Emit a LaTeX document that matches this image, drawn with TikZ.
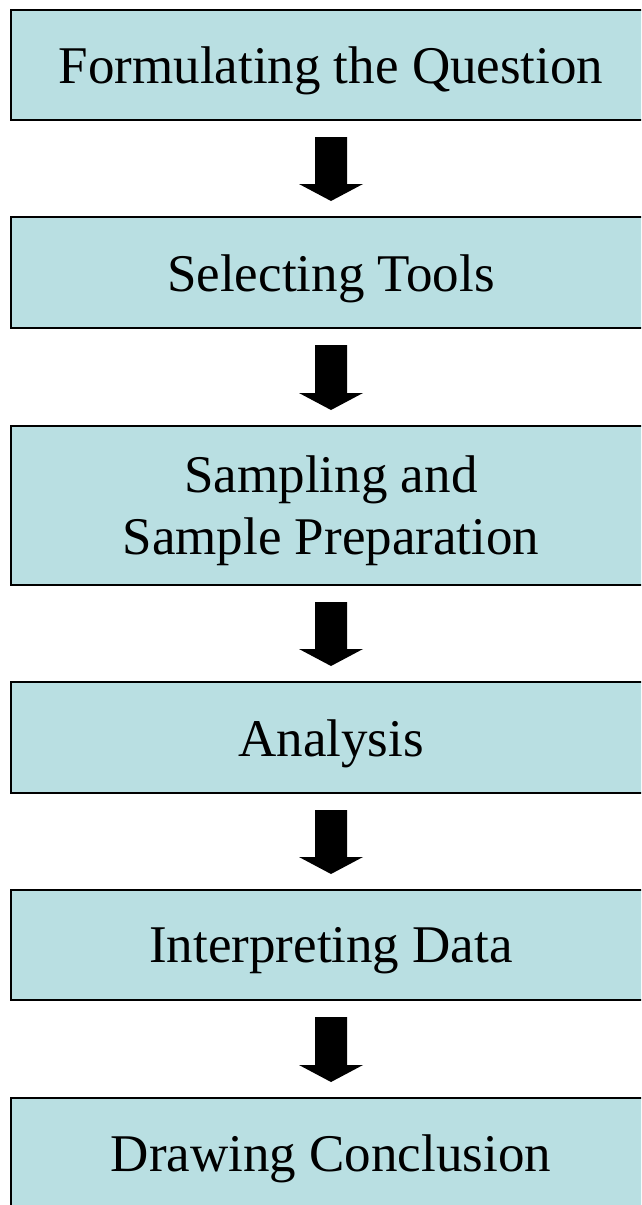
\documentclass[tikz,border=0pt]{standalone}
\usepackage{fontspec}
\setmainfont{Liberation Serif}
\usetikzlibrary{calc}
\definecolor{boxfill}{RGB}{185,223,226}
\tikzset{
  stepbox/.style={draw=black, line width=2pt, fill=boxfill, rectangle,
    minimum width=640pt, inner sep=0pt},
  steptext/.style={inner sep=0pt, align=center,
    font=\fontsize{53}{62}\selectfont},
  blockarrow/.style={fill=black, draw=none}
}
\begin{document}
\begin{tikzpicture}[x=1pt,y=-1pt]
\useasboundingbox (0,0) rectangle (641,1205);
\clip (0,0) rectangle (641,1205);
\node[stepbox, minimum height=110pt] (b1) at (331,65) {};
\node[stepbox, minimum height=111pt] (b2) at (331,272.5) {};
\node[stepbox, minimum height=159pt] (b3) at (331,505.5) {};
\node[stepbox, minimum height=111pt] (b4) at (331,737.5) {};
\node[stepbox, minimum height=110pt] (b5) at (331,945) {};
\node[stepbox, minimum height=110pt] (b6) at (331,1153) {};
\node[steptext] (t1) at ($(b1.center)+(0,6)$) {Formulating the Question};
\node[steptext] (t2) at ($(b2.center)+(0,6)$) {Selecting Tools};
\node[steptext] (t3) at ($(b3.center)+(0,5)$) {Sampling and\\Sample Preparation};
\node[steptext] (t4) at ($(b4.center)+(0,6)$) {Analysis};
\node[steptext] (t5) at ($(b5.center)+(0,6)$) {Interpreting Data};
\node[steptext] (t6) at ($(b6.center)+(0,6)$) {Drawing Conclusion};
\foreach \a/\b in {b1/b2,b2/b3,b3/b4,b4/b5,b5/b6}{
  \fill[blockarrow] ($(\a.south)+(-16,16)$) -- ($(\a.south)+(16,16)$)
    -- ($(\b.north)+(16,-32)$) -- ($(\b.north)+(32,-32)$)
    -- ($(\b.north)+(0,-15)$) -- ($(\b.north)+(-32,-32)$)
    -- ($(\b.north)+(-16,-32)$) -- cycle;
}
\end{tikzpicture}
\end{document}
